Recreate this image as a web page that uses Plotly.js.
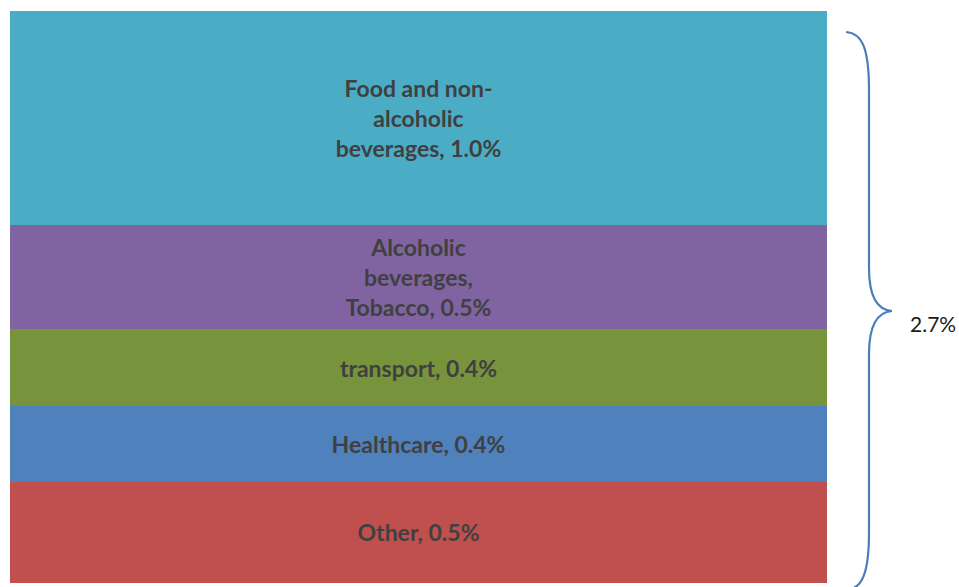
<!DOCTYPE html>
<html>
<head>
<meta charset="utf-8">
<script src="https://cdn.plot.ly/plotly-3.0.1.min.js"></script>
<style>html,body{margin:0;padding:0;background:#fff;}#chart{width:959px;height:587px;}</style>
</head>
<body>
<div id="chart"></div>
<script>
// Data (bottom to top of the stack)
var categories = ["Other", "Healthcare", "transport", "Alcoholic beverages, Tobacco", "Food and non-alcoholic beverages"];
var values = [0.478, 0.357, 0.362, 0.493, 1.009];
var labels = ["Other, 0.5%", "Healthcare, 0.4%", "transport, 0.4%", "Alcoholic<br>beverages,<br>Tobacco, 0.5%", "Food and non-<br>alcoholic<br>beverages, 1.0%"];
var colors = ["#C0504D", "#4F81BD", "#77933C", "#8064A2", "#4BACC6"];
var totalLabel = "2.7%";

var W = 959, H = 587;
var mL = 10, mR = 132, mT = 11, mB = 4;
var pw = W - mL - mR, ph = H - mT - mB;
function X(px){ return (px - mL) / pw; }
function Y(py){ return (H - mB - py) / ph; }

var traces = categories.map(function(c, i){
  return {
    type: "bar",
    name: c,
    x: ["total"],
    y: [values[i]],
    text: [labels[i]],
    textposition: "inside",
    insidetextanchor: "middle",
    textangle: 0,
    constraintext: "none",
    insidetextfont: {family: "Lato, 'Open Sans', sans-serif", size: 23, color: "#404040", weight: "bold"},
    marker: {color: colors[i], line: {width: 0}},
    hoverinfo: "none"
  };
});

var total = values.reduce(function(a,b){return a+b;}, 0);

// brace path in pixel coords -> paper
var pts = [
  ["M", [846,32]],
  ["C", [862,33],[869,48],[869,90]],
  ["L", [869,268]],
  ["C", [869,298],[878,310],[892,311]],
  ["C", [878,312],[869,324],[869,354]],
  ["L", [869,532]],
  ["C", [869,574],[862,589],[846,590]]
];
var path = pts.map(function(seg){
  return seg[0] + " " + seg.slice(1).map(function(p){ return X(p[0]).toFixed(5) + "," + Y(p[1]).toFixed(5); }).join(" ");
}).join(" ");

var layout = {
  width: W, height: H,
  margin: {l: mL, r: mR, t: mT, b: mB, pad: 0},
  paper_bgcolor: "#ffffff",
  plot_bgcolor: "#ffffff",
  barmode: "stack",
  bargap: 0,
  showlegend: false,
  xaxis: {visible: false, range: [-0.5, 0.5], fixedrange: true},
  yaxis: {visible: false, range: [0, total], fixedrange: true},
  shapes: [{
    type: "path", xref: "paper", yref: "paper",
    path: path,
    line: {color: "#4A7EBB", width: 2.2},
    fillcolor: "rgba(0,0,0,0)"
  }],
  annotations: [{
    xref: "paper", yref: "paper",
    x: X(908), y: Y(323),
    xanchor: "left", yanchor: "middle",
    text: totalLabel, showarrow: false,
    font: {family: "Lato, 'Open Sans', sans-serif", size: 21, color: "#1a1a1a"}
  }]
};

Plotly.newPlot("chart", traces, layout, {staticPlot: true, displayModeBar: false});
</script>
</body>
</html>
